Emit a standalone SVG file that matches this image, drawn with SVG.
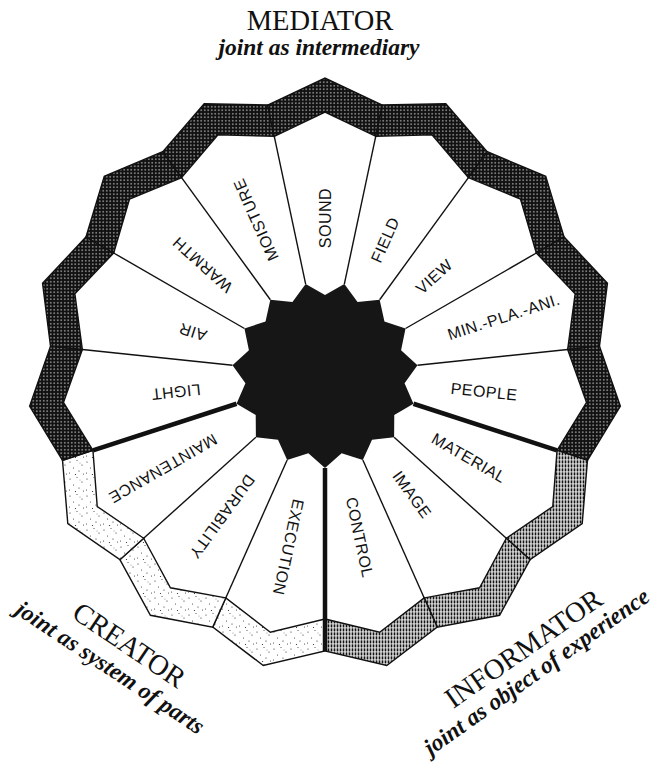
<svg xmlns="http://www.w3.org/2000/svg" width="654" height="763" viewBox="0 0 654 763">
<defs>
<pattern id="pDark" width="3.5" height="3.5" patternUnits="userSpaceOnUse"><rect width="3.5" height="3.5" fill="#111"/><circle cx="1.75" cy="1.75" r="0.7" fill="#fff"/></pattern>
<pattern id="pInfo" width="3" height="4" patternUnits="userSpaceOnUse"><rect width="3" height="4" fill="#fff"/><rect x="0.6" y="0.3" width="1.8" height="3.2" fill="#141414"/></pattern>
<pattern id="pCre" width="17" height="17" patternUnits="userSpaceOnUse"><rect width="17" height="17" fill="#fff"/><g fill="#222"><circle cx="2" cy="3" r="0.6"/><circle cx="9" cy="1.5" r="0.5"/><circle cx="14" cy="6" r="0.6"/><circle cx="5.5" cy="9" r="0.5"/><circle cx="11" cy="12" r="0.6"/><circle cx="1.5" cy="14" r="0.5"/><circle cx="15.5" cy="15" r="0.5"/><circle cx="7.5" cy="15.5" r="0.6"/><circle cx="12" cy="4" r="0.4"/></g></pattern>
<style>
.band{stroke:#111;stroke-width:1.4;stroke-linejoin:miter}
.dark{fill:url(#pDark)}
.info{fill:url(#pInfo)}
.cre{fill:url(#pCre)}
.lbl{font-family:"Liberation Sans",Arial,sans-serif;font-size:16px;letter-spacing:0.5px;fill:#111;text-anchor:middle;dominant-baseline:central}
.div{stroke:#111;stroke-width:1.4}
.thick{stroke:#111;stroke-width:4.5}
.title{font-family:"Liberation Serif","Times New Roman",serif;font-size:28.5px;fill:#111;text-anchor:middle}
.sub{font-family:"Liberation Serif","Times New Roman",serif;font-size:23.5px;font-style:italic;font-weight:bold;fill:#111;text-anchor:middle}
</style>
</defs>
<rect width="654" height="763" fill="#fff"/>

<g id="sector-execution"><polygon class="band cre" points="325,619 270.32,632.25 225.76,597.91 212.74,627.14 263.25,665.51 325,651"/><text class="lbl" transform="translate(288.4,547.2) rotate(102)">EXECUTION</text></g>
<g id="sector-durability"><polygon class="band cre" points="225.76,597.91 170.41,587.77 143.67,538.27 119.89,559.68 150.43,615.28 212.74,627.14"/><text class="lbl" transform="translate(222.1,516.6) rotate(126)">DURABILITY</text></g>
<g id="sector-maintenance"><polygon class="band cre" points="143.67,538.27 97.23,506.5 92.94,450.40 62.51,460.29 67.79,523.5 119.89,559.68"/><text class="lbl" transform="translate(163,468.5) rotate(150)">MAINTENANCE</text></g>
<g id="sector-light"><polygon class="band dark" points="92.94,450.40 63.44,402.49 82.34,349.49 50.51,346.15 29.63,406.05 62.51,460.29"/><text class="lbl" transform="translate(176,392) rotate(174)">LIGHT</text></g>
<g id="sector-air"><polygon class="band dark" points="82.34,349.49 74.87,293.73 113.69,253 85.98,237 42.54,283.22 50.51,346.15"/><text class="lbl" transform="translate(192.8,332) rotate(198)">AIR</text></g>
<g id="sector-warmth"><polygon class="band dark" points="113.69,253 129.55,199.02 181.58,177.60 162.77,151.71 104.29,176.27 85.98,237"/><text class="lbl" transform="translate(202.4,264.6) rotate(222)">WARMTH</text></g>
<g id="sector-moisture"><polygon class="band dark" points="181.58,177.60 218.03,134.74 274.27,136.33 267.62,105.03 204.2,103.68 162.77,151.71"/><text class="lbl" transform="translate(255.9,219.7) rotate(246)">MOISTURE</text></g>
<g id="sector-sound"><polygon class="band dark" points="274.27,136.33 325,112 375.73,136.33 382.38,105.03 325,78 267.62,105.03"/><text class="lbl" transform="translate(325,218) rotate(270)">SOUND</text></g>
<g id="sector-field"><polygon class="band dark" points="375.73,136.33 431.97,134.74 468.42,177.60 487.23,151.71 445.8,103.68 382.38,105.03"/><text class="lbl" transform="translate(385.2,239.8) rotate(294)">FIELD</text></g>
<g id="sector-view"><polygon class="band dark" points="468.42,177.60 520.45,199.02 536.31,253 564.02,237 545.71,176.27 487.23,151.71"/><text class="lbl" transform="translate(434.2,276.6) rotate(318)">VIEW</text></g>
<g id="sector-min-pla-ani"><polygon class="band dark" points="536.31,253 575.13,293.73 567.66,349.49 599.49,346.15 607.46,283.22 564.02,237"/><text class="lbl" transform="translate(503.8,316.9) rotate(342)">MIN.-PLA.-ANI.</text></g>
<g id="sector-people"><polygon class="band dark" points="567.66,349.49 586.56,402.49 557.06,450.40 587.49,460.29 620.37,406.05 599.49,346.15"/><text class="lbl" transform="translate(484.1,391.7) rotate(6)">PEOPLE</text></g>
<g id="sector-material"><polygon class="band info" points="557.06,450.40 552.77,506.5 506.33,538.27 530.11,559.68 582.21,523.5 587.49,460.29"/><text class="lbl" transform="translate(468.8,458) rotate(30)">MATERIAL</text></g>
<g id="sector-image"><polygon class="band info" points="506.33,538.27 479.59,587.77 424.24,597.91 437.26,627.14 499.57,615.28 530.11,559.68"/><text class="lbl" transform="translate(412,494.7) rotate(54)">IMAGE</text></g>
<g id="sector-control"><polygon class="band info" points="424.24,597.91 379.68,632.25 325,619 325,651 386.75,665.51 437.26,627.14"/><text class="lbl" transform="translate(359.5,537.4) rotate(78)">CONTROL</text></g>

<g id="connectors">
<line class="thick" x1="325" y1="468" x2="325" y2="651"/>
<line class="div" x1="287.17" y1="459.96" x2="225.76" y2="597.91"/>
<line class="div" x1="255.89" y1="437.23" x2="143.67" y2="538.27"/>
<line class="thick" x1="236.55" y1="403.74" x2="92.94" y2="450.40"/>
<line class="div" x1="232.51" y1="365.28" x2="82.34" y2="349.49"/>
<line class="div" x1="244.46" y1="328.5" x2="113.69" y2="253"/>
<line class="div" x1="270.34" y1="299.76" x2="181.58" y2="177.60"/>
<line class="div" x1="305.66" y1="284.03" x2="274.27" y2="136.33"/>
<line class="div" x1="344.34" y1="284.03" x2="375.73" y2="136.33"/>
<line class="div" x1="379.66" y1="299.76" x2="468.42" y2="177.60"/>
<line class="div" x1="405.54" y1="328.5" x2="536.31" y2="253"/>
<line class="div" x1="417.49" y1="365.28" x2="567.66" y2="349.49"/>
<line class="thick" x1="413.45" y1="403.74" x2="557.06" y2="450.40"/>
<line class="div" x1="394.11" y1="437.23" x2="506.33" y2="538.27"/>
<line class="div" x1="362.83" y1="459.96" x2="424.24" y2="597.91"/>
</g>

<g id="hub"><polygon fill="#161616" points="325,468 308.37,453.25 287.17,459.96 277.98,439.72 255.89,437.23 255.72,415 236.55,403.74 245.44,383.36 232.51,365.28 248.92,350.28 244.46,328.5 265.55,321.47 270.34,299.76 292.46,301.92 305.66,284.03 325,295 344.34,284.03 357.54,301.92 379.66,299.76 384.45,321.47 405.54,328.5 401.08,350.28 417.49,365.28 404.56,383.36 413.45,403.74 394.28,415 394.11,437.23 372.02,439.72 362.83,459.96 341.63,453.25"/></g>

<g id="title-mediator"><text class="title" x="320" y="29.5">MEDIATOR</text><text class="sub" x="319" y="54.5">joint as intermediary</text></g>
<g id="title-creator"><text class="title" transform="translate(124,653) rotate(34)">CREATOR</text><text class="sub" transform="translate(106,674) rotate(33.6)">joint as system of parts</text></g>
<g id="title-informator"><text class="title" transform="translate(529,656) rotate(-35)">INFORMATOR</text><text class="sub" transform="translate(541,678) rotate(-35.3)">joint as object of experience</text></g>
</svg>
